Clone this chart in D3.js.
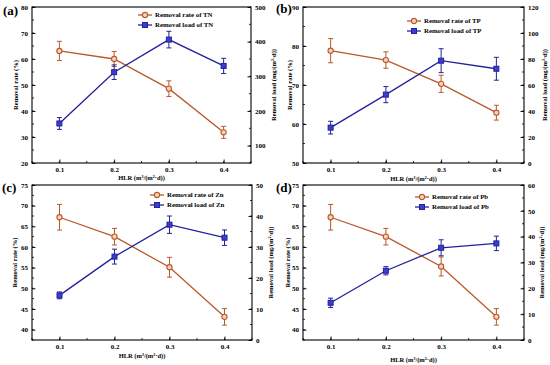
<!DOCTYPE html>
<html>
<head>
<meta charset="utf-8">
<script src="https://cdn.jsdelivr.net/npm/d3@7"></script>
<style>
  body { margin: 0; background: #fff; }
  text { font-family: "Liberation Serif", "DejaVu Serif", serif; font-weight: bold; }
</style>
</head>
<body>
<div id="canvas"></div>
<script>
// HLR categories (m3/(m2.d))
const hlr = [0.1, 0.2, 0.3, 0.4];

// (a) TN
const tnRate = [63.1, 60.0, 48.6, 31.8];
const tnRateErr = [3.7, 2.9, 3.0, 2.3];
const tnLoad = [164, 312, 406, 330];
const tnLoadErr = [17, 21, 24, 22];

// (b) TP
const tpRate = [78.8, 76.4, 70.3, 62.9];
const tpRateErr = [3.1, 2.1, 2.2, 1.9];
const tpLoad = [27.2, 52.6, 78.7, 72.5];
const tpLoadErr = [4.9, 6.2, 9.2, 8.8];

// (c) Zn
const znRate = [67.2, 62.5, 55.1, 43.1];
const znRateErr = [3.1, 2.0, 2.4, 2.0];
const znLoad = [14.4, 26.9, 37.2, 33.0];
const znLoadErr = [1.1, 2.4, 2.8, 2.5];

// (d) Pb
const pbRate = [67.2, 62.5, 55.3, 43.1];
const pbRateErr = [3.1, 2.0, 2.3, 2.0];
const pbLoad = [14.4, 26.8, 35.7, 37.4];
const pbLoadErr = [1.8, 1.6, 3.1, 2.8];

// tick labels
const xTicks = [0.1, 0.2, 0.3, 0.4];
const tnRateTicks = [20, 30, 40, 50, 60, 70, 80];
const tnLoadTicks = [100, 200, 300, 400, 500];
const tpRateTicks = [50, 60, 70, 80, 90];
const tpLoadTicks = [0, 20, 40, 60, 80, 100, 120];
const metalRateTicks = [40, 45, 50, 55, 60, 65, 70, 75];
const znLoadTicks = [0, 10, 20, 30, 40, 50];
const pbLoadTicks = [0, 10, 20, 30, 40, 50, 60];

const orange = "#b9592a";
const blue = "#22229a";

const width = 550;
const height = 365;

const svg = d3.select("#canvas").append("svg")
  .attr("width", width)
  .attr("height", height);

const panels = [
  { tag: "(a)", name: "TN", x0: 32, x1: 251, y0: 7, y1: 163,
    rate: tnRate, rateErr: tnRateErr, load: tnLoad, loadErr: tnLoadErr,
    lDom: [20, 80], lTicks: tnRateTicks, lMinor: 5,
    rDom: [50, 500], rTicks: tnLoadTicks, rMinor: 50,
    legX: 138, legY: 15, tagX: 3, tagY: 15,
    xTitleY: 180, lTitleX: 16, rTitleX: 274 },
  { tag: "(b)", name: "TP", x0: 303, x1: 524, y0: 7, y1: 163,
    rate: tpRate, rateErr: tpRateErr, load: tpLoad, loadErr: tpLoadErr,
    lDom: [50, 90], lTicks: tpRateTicks, lMinor: 5,
    rDom: [0, 120], rTicks: tpLoadTicks, rMinor: 10,
    legX: 407, legY: 21, tagX: 276, tagY: 13,
    xTitleY: 181, lTitleX: 290, rTitleX: 545 },
  { tag: "(c)", name: "Zn", x0: 32, x1: 252, y0: 185, y1: 340,
    rate: znRate, rateErr: znRateErr, load: znLoad, loadErr: znLoadErr,
    lDom: [37.5, 75], lTicks: metalRateTicks, lMinor: 2.5,
    rDom: [0, 50], rTicks: znLoadTicks, rMinor: 5,
    legX: 150, legY: 195, tagX: 2, tagY: 192,
    xTitleY: 358, lTitleX: 15, rTitleX: 271 },
  { tag: "(d)", name: "Pb", x0: 303, x1: 524, y0: 185, y1: 340,
    rate: pbRate, rateErr: pbRateErr, load: pbLoad, loadErr: pbLoadErr,
    lDom: [37.5, 75], lTicks: metalRateTicks, lMinor: 2.5,
    rDom: [0, 60], rTicks: pbLoadTicks, rMinor: 5,
    legX: 415, legY: 197, tagX: 276, tagY: 192,
    xTitleY: 362, lTitleX: 288, rTitleX: 542 }
];

function minorTicks(dom, step) {
  const out = [];
  const start = Math.ceil(dom[0] / step) * step;
  for (let v = start; v <= dom[1] + 1e-9; v += step) out.push(+v.toFixed(4));
  return out;
}

function drawSeries(g, x, y, vals, errs, color, shape) {
  const pts = hlr.map((h, i) => ({ h, v: vals[i], e: errs[i] }));
  const line = d3.line().x(d => x(d.h)).y(d => y(d.v));
  g.append("path").datum(pts)
    .attr("fill", "none").attr("stroke", color).attr("stroke-width", 1.3)
    .attr("d", line);

  const eb = g.selectAll(null).data(pts).enter().append("g").attr("stroke", color).attr("stroke-width", 1);
  eb.append("line").attr("x1", d => x(d.h)).attr("x2", d => x(d.h))
    .attr("y1", d => y(d.v - d.e)).attr("y2", d => y(d.v + d.e));
  eb.append("line").attr("x1", d => x(d.h) - 2.5).attr("x2", d => x(d.h) + 2.5)
    .attr("y1", d => y(d.v + d.e)).attr("y2", d => y(d.v + d.e));
  eb.append("line").attr("x1", d => x(d.h) - 2.5).attr("x2", d => x(d.h) + 2.5)
    .attr("y1", d => y(d.v - d.e)).attr("y2", d => y(d.v - d.e));

  drawMarker(g, pts.map(d => [x(d.h), y(d.v)]), color, shape);
}

function drawMarker(g, xy, color, shape) {
  if (shape === "circle") {
    g.selectAll(null).data(xy).enter().append("circle")
      .attr("cx", d => d[0]).attr("cy", d => d[1]).attr("r", 2.6)
      .attr("fill", "#f3d3bd").attr("stroke", color).attr("stroke-width", 1.1);
  } else {
    g.selectAll(null).data(xy).enter().append("rect")
      .attr("x", d => d[0] - 2.5).attr("y", d => d[1] - 2.5)
      .attr("width", 5).attr("height", 5)
      .attr("fill", "#3c3cd0").attr("stroke", color).attr("stroke-width", 1);
  }
}

panels.forEach(p => {
  const g = svg.append("g");
  const x = d3.scaleLinear().domain([0.05, 0.45]).range([p.x0, p.x1]);
  const yl = d3.scaleLinear().domain(p.lDom).range([p.y1, p.y0]);
  const yr = d3.scaleLinear().domain(p.rDom).range([p.y1, p.y0]);

  // minor ticks
  const minor = g.append("g").attr("stroke", "#000").attr("stroke-width", 0.8);
  minorTicks([0.05, 0.45], 0.05).forEach(v => {
    minor.append("line").attr("x1", x(v)).attr("x2", x(v)).attr("y1", p.y1).attr("y2", p.y1 - 2);
  });
  minorTicks(p.lDom, p.lMinor).forEach(v => {
    minor.append("line").attr("x1", p.x0).attr("x2", p.x0 + 2).attr("y1", yl(v)).attr("y2", yl(v));
  });
  minorTicks(p.rDom, p.rMinor).forEach(v => {
    minor.append("line").attr("x1", p.x1).attr("x2", p.x1 - 2).attr("y1", yr(v)).attr("y2", yr(v));
  });

  const xa = g.append("g").attr("transform", `translate(0,${p.y1})`)
    .call(d3.axisBottom(x).tickValues(xTicks).tickFormat(d3.format(".1f")).tickSize(-3.5).tickPadding(4));
  const la = g.append("g").attr("transform", `translate(${p.x0},0)`)
    .call(d3.axisLeft(yl).tickValues(p.lTicks).tickFormat(d3.format("d")).tickSize(-3.5).tickPadding(4));
  const ra = g.append("g").attr("transform", `translate(${p.x1},0)`)
    .call(d3.axisRight(yr).tickValues(p.rTicks).tickFormat(d3.format("d")).tickSize(-3.5).tickPadding(4));
  [xa, la, ra].forEach(a => {
    a.select(".domain").remove();
    a.selectAll("text").attr("font-size", 7).attr("font-family", "Liberation Serif").attr("font-weight", "bold");
    a.selectAll("line").attr("stroke-width", 0.9);
  });

  g.append("rect").attr("x", p.x0).attr("y", p.y0)
    .attr("width", p.x1 - p.x0).attr("height", p.y1 - p.y0)
    .attr("fill", "none").attr("stroke", "#000").attr("stroke-width", 1.1);

  drawSeries(g, x, yl, p.rate, p.rateErr, orange, "circle");
  drawSeries(g, x, yr, p.load, p.loadErr, blue, "square");

  // titles
  g.append("text").attr("x", (p.x0 + p.x1) / 2).attr("y", p.xTitleY)
    .attr("text-anchor", "middle").attr("font-size", 6.5)
    .text("HLR (m³/(m²·d))");
  g.append("text").attr("transform", `translate(${p.lTitleX},${(p.y0 + p.y1) / 2}) rotate(-90)`)
    .attr("text-anchor", "middle").attr("dy", "0.35em").attr("font-size", 6.5)
    .text("Removal rate (%)");
  g.append("text").attr("transform", `translate(${p.rTitleX},${(p.y0 + p.y1) / 2}) rotate(-90)`)
    .attr("text-anchor", "middle").attr("dy", "0.35em").attr("font-size", 6.5)
    .text("Removal load (mg/(m²·d))");
  g.append("text").attr("x", p.tagX).attr("y", p.tagY)
    .attr("font-size", 13).text(p.tag);

  // legend
  const leg = [
    { label: "Removal rate of " + p.name, color: orange, shape: "circle" },
    { label: "Removal load of " + p.name, color: blue, shape: "square" }
  ];
  leg.forEach((l, i) => {
    const ly = p.legY + i * 10;
    g.append("line").attr("x1", p.legX).attr("x2", p.legX + 14)
      .attr("y1", ly).attr("y2", ly).attr("stroke", l.color).attr("stroke-width", 1.3);
    drawMarker(g, [[p.legX + 7, ly]], l.color, l.shape);
    g.append("text").attr("x", p.legX + 17).attr("y", ly).attr("dy", "0.35em")
      .attr("font-size", 6.8).text(l.label);
  });
});
</script>
</body>
</html>
